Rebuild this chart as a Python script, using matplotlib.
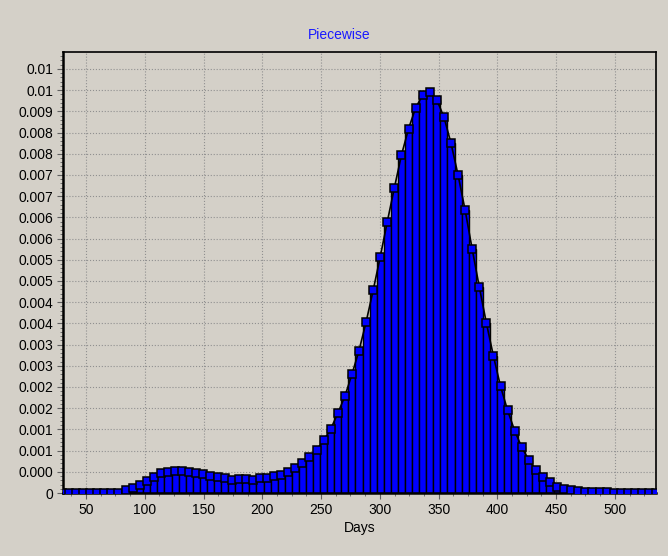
import numpy as np
import matplotlib.pyplot as plt

plt.rcParams['font.family'] = ['Liberation Sans', 'DejaVu Sans']

# histogram bins (days), bin width
bin_width = 6.02
first_center = 29.46
# density per bin, left to right (zeros outside the populated range)
density = [
    0, 0, 0, 0, 0, 0, 0,
    0.00001, 0.00001, 0.00006, 0.00011, 0.00019, 0.00029, 0.00037, 0.00046,
    0.0005, 0.00053, 0.00053, 0.0005, 0.00046, 0.00044, 0.0004, 0.00037,
    0.00035, 0.00031, 0.00032, 0.00032, 0.00031, 0.00035, 0.00035, 0.00041,
    0.00043, 0.0005, 0.00059, 0.00071, 0.00084, 0.00102, 0.00124, 0.00151,
    0.00188, 0.00228, 0.0028, 0.00336, 0.00403, 0.00478, 0.00557, 0.0064,
    0.0072, 0.00797, 0.00859, 0.00908, 0.00939, 0.00945, 0.00927, 0.00887,
    0.00825, 0.0075, 0.00667, 0.00575, 0.00486, 0.00401, 0.00323, 0.00252,
    0.00195, 0.00147, 0.00108, 0.00078, 0.00055, 0.00037, 0.00025, 0.00015,
    0.0001, 0.00007, 0.00004, 0.00003, 0.00003, 0.00002, 0.00002,
    0, 0, 0, 0, 0, 0, 0,
]
days = first_center + bin_width * np.arange(len(density))

x_ticks = [50, 100, 150, 200, 250, 300, 350, 400, 450, 500]
y_ticks = np.arange(0, 0.01001, 0.0005)
y_labels = ['0', '0.000', '0.001', '0.001', '0.002', '0.002', '0.003', '0.003',
            '0.004', '0.004', '0.005', '0.005', '0.006', '0.006', '0.007',
            '0.007', '0.008', '0.008', '0.009', '0.01', '0.01']

bg = '#d4d0c8'
fig = plt.figure(figsize=(6.68, 5.56), dpi=100, facecolor=bg)
ax = fig.add_axes([0.0943, 0.1133, 0.8877, 0.7932])
ax.set_facecolor(bg)

ax.bar(days, density, width=bin_width, color='#0000ff', edgecolor='black',
       linewidth=1.0, zorder=2)
ax.plot(days, density, '-', color='black', linewidth=1.2, marker='s',
        markersize=5.5, markerfacecolor='#0000ff', markeredgecolor='black',
        markeredgewidth=1.1, zorder=3)

ax.set_xlim(30.4, 535)
ax.set_ylim(0, 0.0104)
ax.set_xticks(x_ticks)
ax.set_xticks(np.arange(37.5, 535, 12.5), minor=True)
ax.set_yticks(y_ticks)
ax.set_yticklabels(y_labels)
ax.set_yticks(np.arange(0, 0.0104, 0.0001), minor=True)

ax.grid(True, which='major', linestyle=':', color='#909090', linewidth=0.8,
        zorder=0)
ax.set_axisbelow(True)

ax.tick_params(which='major', direction='out', length=4, width=0.8,
               color='#606060', labelsize=10, pad=3)
ax.tick_params(which='minor', direction='out', length=2, width=0.6,
               color='#606060')

for side in ['left', 'bottom']:
    ax.spines[side].set_linewidth(1.8)
for side in ['top', 'right']:
    ax.spines[side].set_linewidth(1.2)

ax.set_xlabel('Days', fontsize=10, labelpad=3)
fig.text(0.508, 0.937, 'Piecewise', color='#1a1aff', fontsize=10,
         ha='center', va='center')

plt.savefig('out.png', dpi=100, facecolor=bg)
